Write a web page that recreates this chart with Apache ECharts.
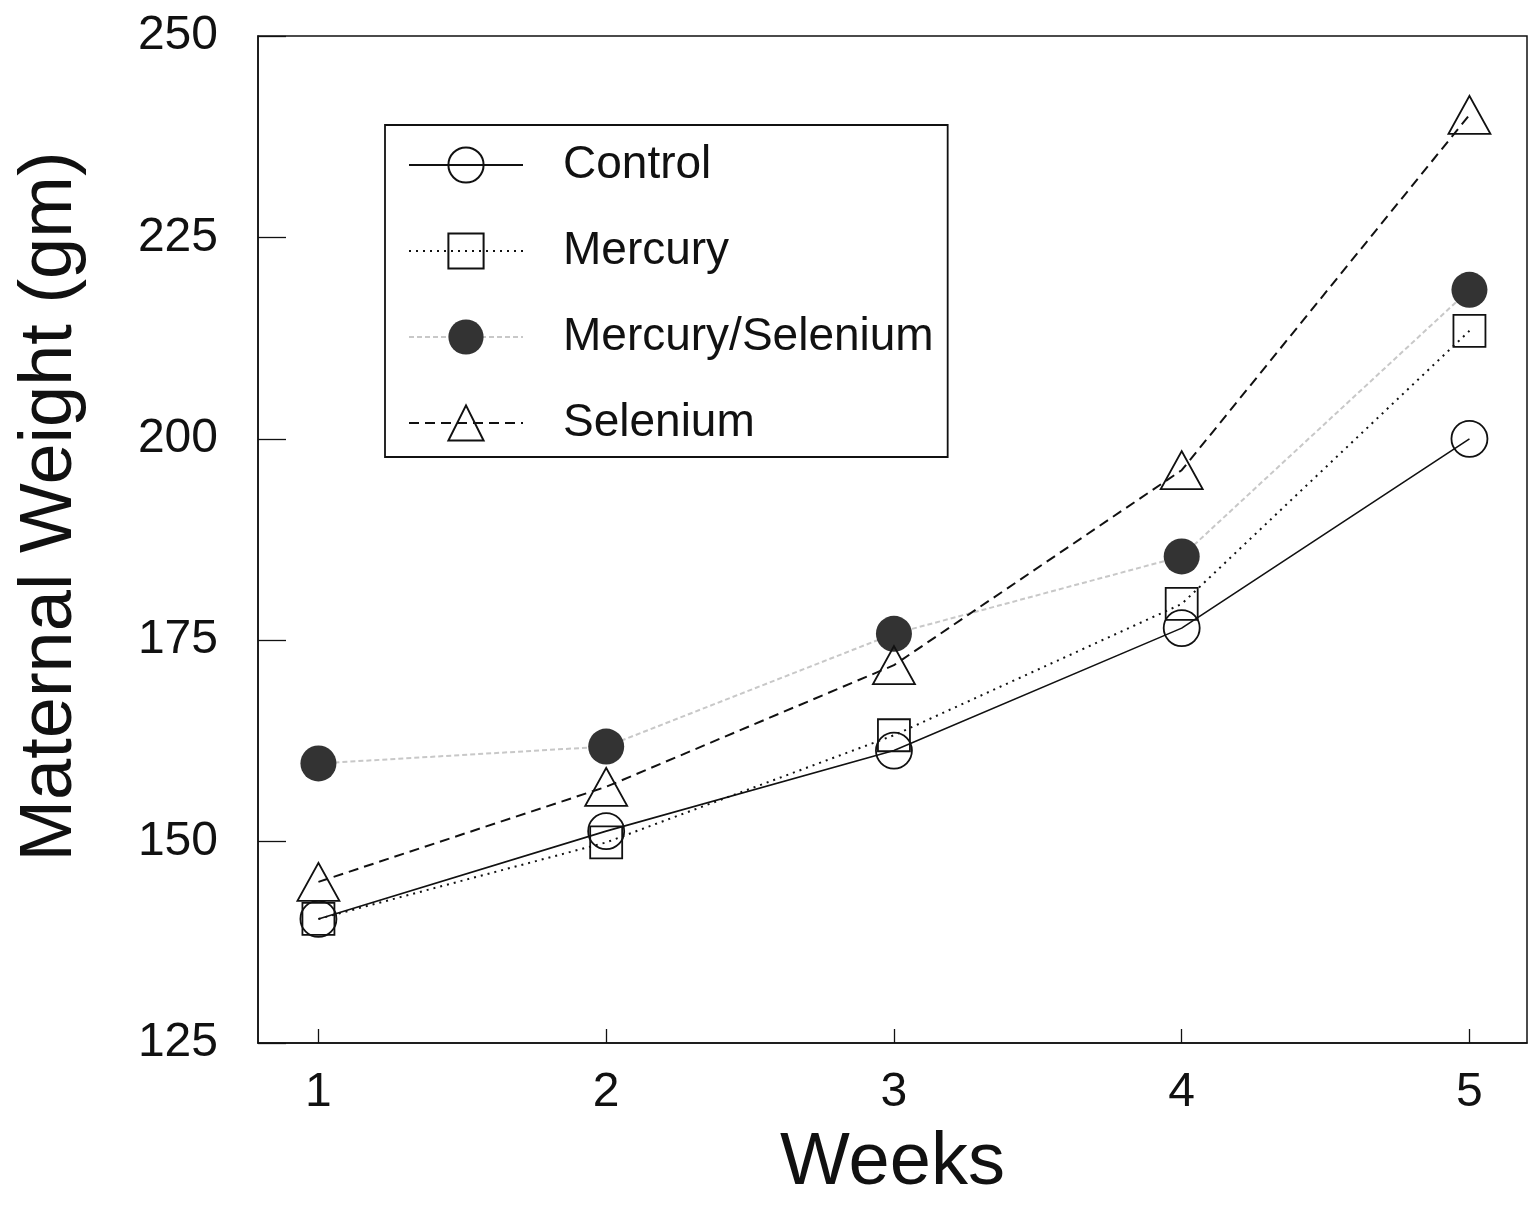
<!DOCTYPE html>
<html><head><meta charset="utf-8">
<script src="https://cdn.jsdelivr.net/npm/echarts@6/dist/echarts.min.js"></script>
<style>html,body{margin:0;padding:0;background:#fff}#c{width:1529px;height:1206px}</style>
</head><body><div id="c"></div>
<script>
const weeks = [1, 2, 3, 4, 5];
const control = [140.4, 151.3, 161.3, 176.5, 200.0];
const mercury = [140.4, 149.9, 163.2, 179.5, 213.4];
const mercurySelenium = [159.7, 161.8, 175.8, 185.4, 218.5];
const selenium = [145.0, 156.8, 171.9, 196.1, 240.2];
const seriesNames = ['Control', 'Mercury', 'Mercury/Selenium', 'Selenium'];
const xTitle = 'Weeks';
const yTitle = 'Maternal Weight (gm)';

const FONT = 'Liberation Sans, Arial, Helvetica, sans-serif';
const pairs = arr => weeks.map((w, i) => [w, arr[i]]);
const openItem = { color: 'rgba(0,0,0,0)', borderColor: '#111', borderWidth: 1.8 };

const chart = echarts.init(document.getElementById('c'), null, { renderer: 'canvas' });
chart.setOption({
  animation: false,
  backgroundColor: '#fff',
  grid: { left: 258, right: 2, top: 36, bottom: 161, show: true, borderColor: '#111', borderWidth: 1.5, backgroundColor: 'transparent' },
  legend: {
    orient: 'vertical', left: 385, top: 125,
    data: seriesNames,
    itemWidth: 114, itemHeight: 44, itemGap: 40,
    padding: [17, 14, 11, 23],
    borderColor: '#111', borderWidth: 1.8,
    textStyle: { fontFamily: FONT, fontSize: 46, color: '#111', padding: [0, 0, 0, 35] }
  },
  xAxis: {
    type: 'value', min: 0.79, max: 5.2,
    name: xTitle, nameLocation: 'middle', nameGap: 84,
    nameTextStyle: { fontFamily: FONT, fontSize: 74, color: '#111' },
    axisLine: { show: true, lineStyle: { color: '#111', width: 1.5 } },
    axisTick: { show: true, inside: true, length: 14, customValues: weeks, lineStyle: { color: '#111', width: 1.3 } },
    axisLabel: { customValues: weeks, margin: 26, fontFamily: FONT, fontSize: 48, color: '#111' },
    splitLine: { show: false }
  },
  yAxis: {
    type: 'value', min: 125, max: 250, interval: 25,
    name: yTitle, nameLocation: 'middle', nameGap: 170,
    nameTextStyle: { fontFamily: FONT, fontSize: 74, color: '#111', padding: [0, 0, 0, 66] },
    axisLine: { show: true, lineStyle: { color: '#111', width: 1.5 } },
    axisTick: { show: true, inside: true, length: 28, lineStyle: { color: '#111', width: 1.3 } },
    axisLabel: { margin: 40, fontFamily: FONT, fontSize: 48, color: '#111' },
    splitLine: { show: false }
  },
  series: [
    { name: seriesNames[0], type: 'line', data: pairs(control), symbol: 'circle', symbolSize: 36,
      lineStyle: { color: '#111', width: 1.6, type: 'solid' }, itemStyle: openItem, z: 4 },
    { name: seriesNames[1], type: 'line', data: pairs(mercury), symbol: 'rect', symbolSize: 32,
      lineStyle: { color: '#111', width: 2, type: [2, 5] }, itemStyle: openItem, z: 3 },
    { name: seriesNames[2], type: 'line', data: pairs(mercurySelenium), symbol: 'circle', symbolSize: 36,
      lineStyle: { color: '#c8c8c8', width: 2, type: [5, 3] }, itemStyle: { color: '#333', borderWidth: 0 }, z: 2 },
    { name: seriesNames[3], type: 'line', data: pairs(selenium), symbol: 'triangle', symbolSize: [42, 38],
      lineStyle: { color: '#111', width: 2, type: [10, 6] }, itemStyle: openItem, z: 5 }
  ]
});
</script></body></html>
